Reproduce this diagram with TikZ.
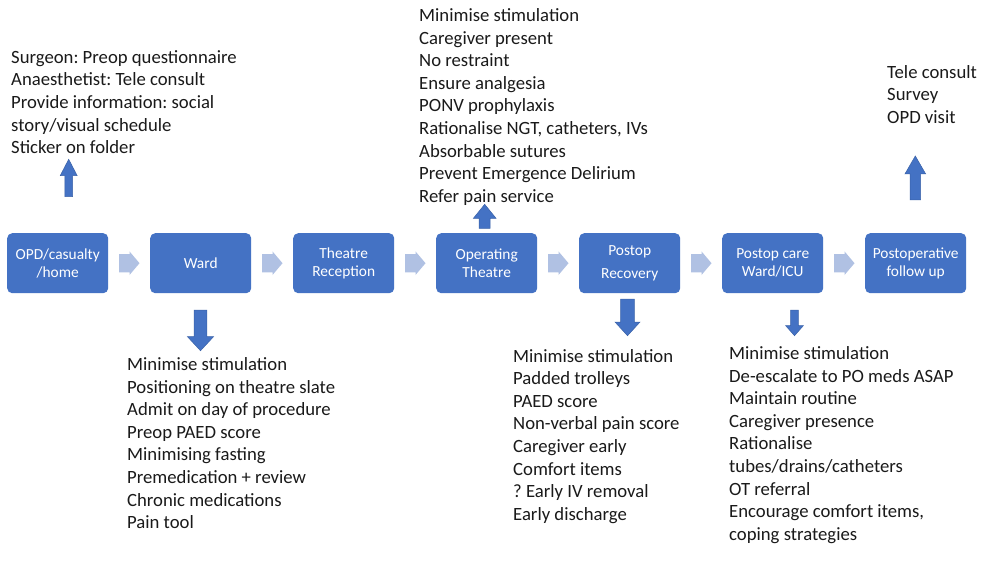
\documentclass[tikz,border=0pt]{standalone}
\usepackage{fontspec}
\setmainfont{Carlito}
\usetikzlibrary{calc}
\frenchspacing
\definecolor{boxblue}{HTML}{4472C4}
\definecolor{chevc}{HTML}{B0C1E3}
\definecolor{arrowline}{HTML}{3A62A8}
\definecolor{textc}{HTML}{1A1A1A}
\newcommand\vblockarrow[6]{%
  \filldraw[blockarr] ({#1-#5},#2) -- ({#1-#5},#3) -- ({#1-#6},#3) -- (#1,#4) -- ({#1+#6},#3) -- ({#1+#5},#3) -- ({#1+#5},#2) -- cycle;}
\tikzset{
  stage/.style={fill=boxblue, rounded corners=5pt, minimum width=101pt, minimum height=60pt,
    inner sep=0pt, text=white, font=\fontsize{15.4}{17.7}\selectfont, align=center, anchor=north west},
  listtext/.style={anchor=base west, align=left, inner sep=0pt, font=\fontsize{18.7}{22.6}\selectfont, text=textc},
  blockarr/.style={fill=boxblue, draw=arrowline, line width=0.5pt},
  chevron/.style={fill=chevc}
}
\begin{document}
\begin{tikzpicture}[x=1pt,y=-1pt]
\fill[white] (0,0) rectangle (982,564);
\useasboundingbox (0,0) rectangle (982,564);

% stages
\node[stage] (opd)   at (7,233)   {OPD/casualty\\/home};
\node[stage] (ward)  at (150,233) {Ward};
\node[stage] (recep) at (293,233) {Theatre\\Reception};
\node[stage] (ot)    at (436,233) {Operating\\Theatre};
\node[stage] (rec)   at (579,233) {Postop\\[5.6pt]Recovery};
\node[stage] (care)  at (722,233) {Postop care\\Ward/ICU};
\node[stage] (fu)    at (865,233) {Postoperative\\follow up};

% chevrons between stages
\foreach \a/\b in {opd/ward, ward/recep, recep/ot, ot/rec, rec/care, care/fu}{
  \fill[chevron, shift={($(\a.east)!0.5!(\b.west)$)}]
    (-10,-9.2) -- (0.3,-9.2) -- (0.3,-11.8) -- (10.3,0) -- (0.3,11.8) -- (0.3,9.2) -- (-10,9.2) -- cycle;
}

% vertical block arrows
\vblockarrow{68.7}{196.7}{175.7}{159.3}{3.8}{8.5}
\vblockarrow{484.7}{228.3}{218.3}{204.3}{5.5}{11.3}
\vblockarrow{915.3}{200}{174}{156}{5.3}{10.4}
\vblockarrow{200.5}{310}{336.7}{350.7}{6.3}{13}
\vblockarrow{627.5}{299}{322}{335.7}{6.8}{12.5}
\vblockarrow{794.5}{310}{325.7}{335.7}{3.8}{8.8}

% text lists (anchored at the baseline of the last line)
\node[listtext] (opdlist) at (11,153.7) {Surgeon: Preop questionnaire\\Anaesthetist: Tele consult\\Provide information: social\\story/visual schedule\\Sticker on folder};
\node[listtext] (otlist) at (419,202.4) {Minimise stimulation\\Caregiver present\\No restraint\\Ensure analgesia\\PONV prophylaxis\\Rationalise NGT, catheters, IVs\\Absorbable sutures\\Prevent Emergence Delirium\\Refer pain service};
\node[listtext] (fulist) at (887,123.6) {Tele consult\\Survey\\OPD visit};
\node[listtext] (wardlist) at (127,528.6) {Minimise stimulation\\Positioning on theatre slate\\Admit on day of procedure\\Preop PAED score\\Minimising fasting\\Premedication + review\\Chronic medications\\Pain tool};
\node[listtext] (reclist) at (513,520.2) {Minimise stimulation\\Padded trolleys\\PAED score\\Non-verbal pain score\\Caregiver early\\Comfort items\\? Early IV removal\\Early discharge};
\node[listtext] (carelist) at (729,540.2) {Minimise stimulation\\De-escalate to PO meds ASAP\\Maintain routine\\Caregiver presence\\Rationalise\\tubes/drains/catheters\\OT referral\\Encourage comfort items,\\coping strategies};
\end{tikzpicture}
\end{document}
